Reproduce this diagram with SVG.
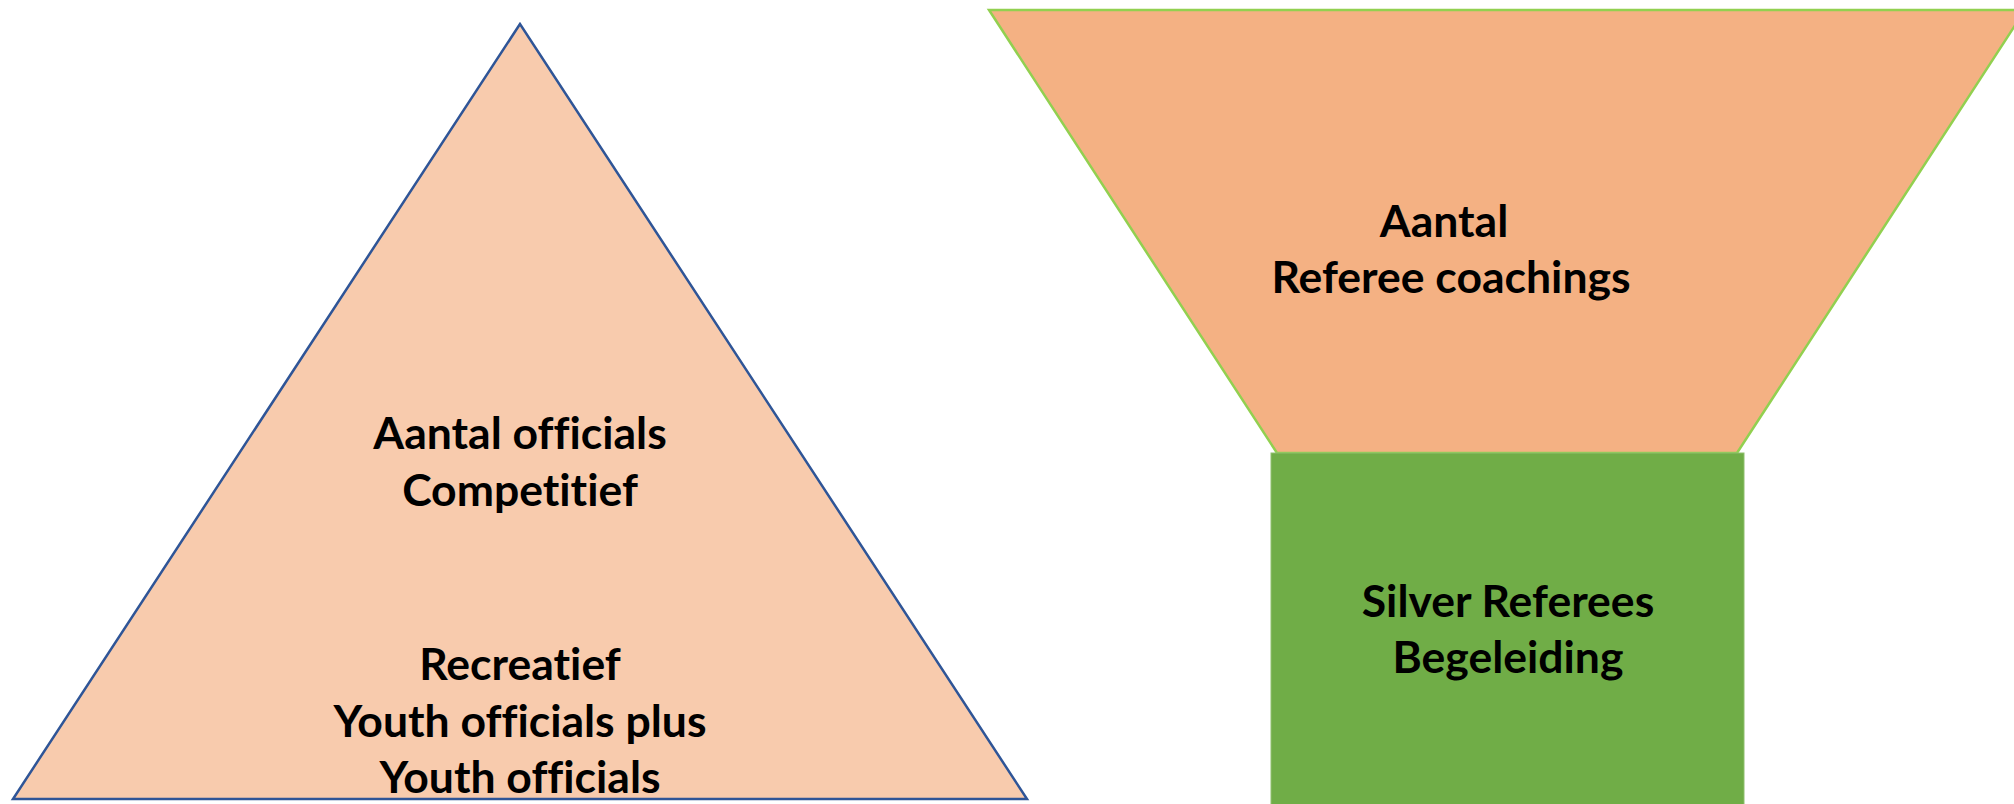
<svg xmlns="http://www.w3.org/2000/svg" width="2014" height="804" viewBox="0 0 2014 804">
<style>
.t{font-family:Lato,"Open Sans","Liberation Sans",sans-serif;font-weight:bold;font-size:44.5px;fill:#000;text-anchor:middle;font-variant-ligatures:none}
</style>
<rect width="2014" height="804" fill="#fff"/>
<g id="pyramid">
<polygon points="520,24 13,799 1027,799" fill="#F8CBAD" stroke="#2F5597" stroke-width="2.5" stroke-linejoin="miter"/>
<text class="t" x="520" y="449">Aantal officials</text>
<text class="t" x="520" y="506">Competitief</text>
<text class="t" x="520" y="680">Recreatief</text>
<text class="t" x="520" y="737">Youth officials plus</text>
<text class="t" x="520" y="793">Youth officials</text>
</g>
<g id="funnel">
<polygon points="989,10 2025,10 1737,453 1277,453" fill="#F4B183" stroke="#92D050" stroke-width="2.5"/>
<text class="t" x="1444" y="237">Aantal</text>
<text class="t" x="1451" y="293">Referee coachings</text>
</g>
<g id="silver">
<rect x="1271" y="453" width="473" height="360" fill="#70AD47" stroke="#8FBF6E" stroke-width="1"/>
<text class="t" x="1508" y="617">Silver Referees</text>
<text class="t" x="1508" y="673">Begeleiding</text>
</g>
<g id="connectors"/>
</svg>
